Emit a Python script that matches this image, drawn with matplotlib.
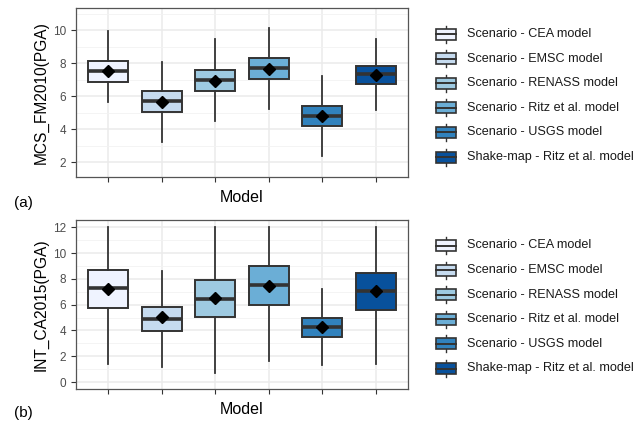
import matplotlib.pyplot as plt
from matplotlib.patches import Rectangle
from matplotlib.ticker import MultipleLocator

plt.rcParams['font.family'] = ['Liberation Sans', 'DejaVu Sans']

models = ['Scenario - CEA model', 'Scenario - EMSC model', 'Scenario - RENASS model',
          'Scenario - Ritz et al. model', 'Scenario - USGS model',
          'Shake-map - Ritz et al. model']
colors = ['#EFF3FF', '#C6DBEF', '#9ECAE1', '#6BAED6', '#3182BD', '#08519C']

# panel (a): MCS_FM2010(PGA)
mcs_whislo = [5.64, 3.21, 4.48, 5.21, 2.40, 5.15]
mcs_q1 = [6.89, 5.05, 6.34, 7.03, 4.20, 6.75]
mcs_med = [7.54, 5.72, 6.99, 7.70, 4.83, 7.35]
mcs_q3 = [8.12, 6.30, 7.60, 8.30, 5.43, 7.86]
mcs_whishi = [9.96, 8.10, 9.45, 10.12, 7.21, 9.45]
mcs_mean = [7.50, 5.66, 6.95, 7.66, 4.81, 7.29]

# panel (b): INT_CA2015(PGA)
int_whislo = [1.37, 1.19, 0.72, 1.66, 1.29, 1.40]
int_q1 = [5.77, 3.98, 5.04, 6.00, 3.49, 5.61]
int_med = [7.27, 4.86, 6.47, 7.53, 4.24, 7.03]
int_q3 = [8.72, 5.85, 7.91, 9.00, 4.99, 8.48]
int_whishi = [12.0, 8.64, 12.0, 12.0, 7.19, 12.0]
int_mean = [7.22, 5.02, 6.50, 7.47, 4.29, 7.03]

W, H = 638, 426
fig = plt.figure(figsize=(W / 100, H / 100), dpi=100)
edge = '#333333'


def panel(rect, lo, q1, med, q3, hi, mean, ylabel, ylim, tag, tag_y):
    ax = fig.add_axes(rect)
    stats = []
    for i in range(len(models)):
        stats.append(dict(whislo=lo[i], q1=q1[i], med=med[i], q3=q3[i],
                          whishi=hi[i], mean=mean[i], fliers=[]))
    bp = ax.bxp(stats, positions=range(1, 7), widths=0.75, patch_artist=True,
                showmeans=True, showcaps=False, showfliers=False,
                boxprops=dict(edgecolor=edge, linewidth=1.4),
                medianprops=dict(color=edge, linewidth=2.6),
                whiskerprops=dict(color=edge, linewidth=1.3),
                meanprops=dict(marker='D', markerfacecolor='black',
                               markeredgecolor='black', markersize=6.5))
    for patch, c in zip(bp['boxes'], colors):
        patch.set_facecolor(c)
    ax.set_xlim(0.4, 6.6)
    ax.set_ylim(*ylim)
    ax.yaxis.set_major_locator(MultipleLocator(2))
    ax.yaxis.set_minor_locator(MultipleLocator(1))
    ax.grid(True, which='major', color='#EBEBEB', linewidth=1.1)
    ax.grid(True, which='minor', axis='y', color='#F2F2F2', linewidth=0.6)
    ax.set_axisbelow(True)
    ax.set_xticks(range(1, 7))
    ax.set_xticklabels([])
    ax.tick_params(axis='both', which='major', length=3.5, color=edge,
                   labelsize=8.5, labelcolor='#4D4D4D', width=0.8)
    ax.tick_params(axis='y', which='minor', length=0)
    for s in ax.spines.values():
        s.set_color('#555555')
        s.set_linewidth(0.9)
    ax.set_ylabel(ylabel, fontsize=11.2, labelpad=3)
    ax.set_xlabel('Model', fontsize=11.5, labelpad=2)
    fig.text(14 / W, 1 - tag_y / H, tag, fontsize=11, va='center', ha='left')
    return ax


panel([76 / W, 1 - 177 / H, 332 / W, 169 / H], mcs_whislo, mcs_q1, mcs_med,
      mcs_q3, mcs_whishi, mcs_mean, 'MCS_FM2010(PGA)', (1.1, 11.35), '(a)', 203)
panel([76 / W, 1 - 389 / H, 332 / W, 169 / H], int_whislo, int_q1, int_med,
      int_q3, int_whishi, int_mean, 'INT_CA2015(PGA)', (-0.54, 12.57), '(b)', 413)

# legends drawn in pixel coordinates
lax = fig.add_axes([0, 0, 1, 1])
lax.set_xlim(0, W)
lax.set_ylim(H, 0)
lax.axis('off')
for y0 in (34, 245.5):
    for i, (name, c) in enumerate(zip(models, colors)):
        y = y0 + i * 24.6
        lax.plot([446, 446], [y - 8.5, y + 8.5], color=edge, lw=1.0, zorder=1)
        lax.add_patch(Rectangle((436, y - 5.5), 20, 11, facecolor=c,
                                edgecolor=edge, lw=1.2, zorder=2))
        lax.plot([436, 456], [y, y], color=edge, lw=1.4, zorder=3)
        lax.text(467, y, name, fontsize=9.1, va='center', ha='left', color='#1A1A1A')

fig.savefig('out.png', dpi=100)
